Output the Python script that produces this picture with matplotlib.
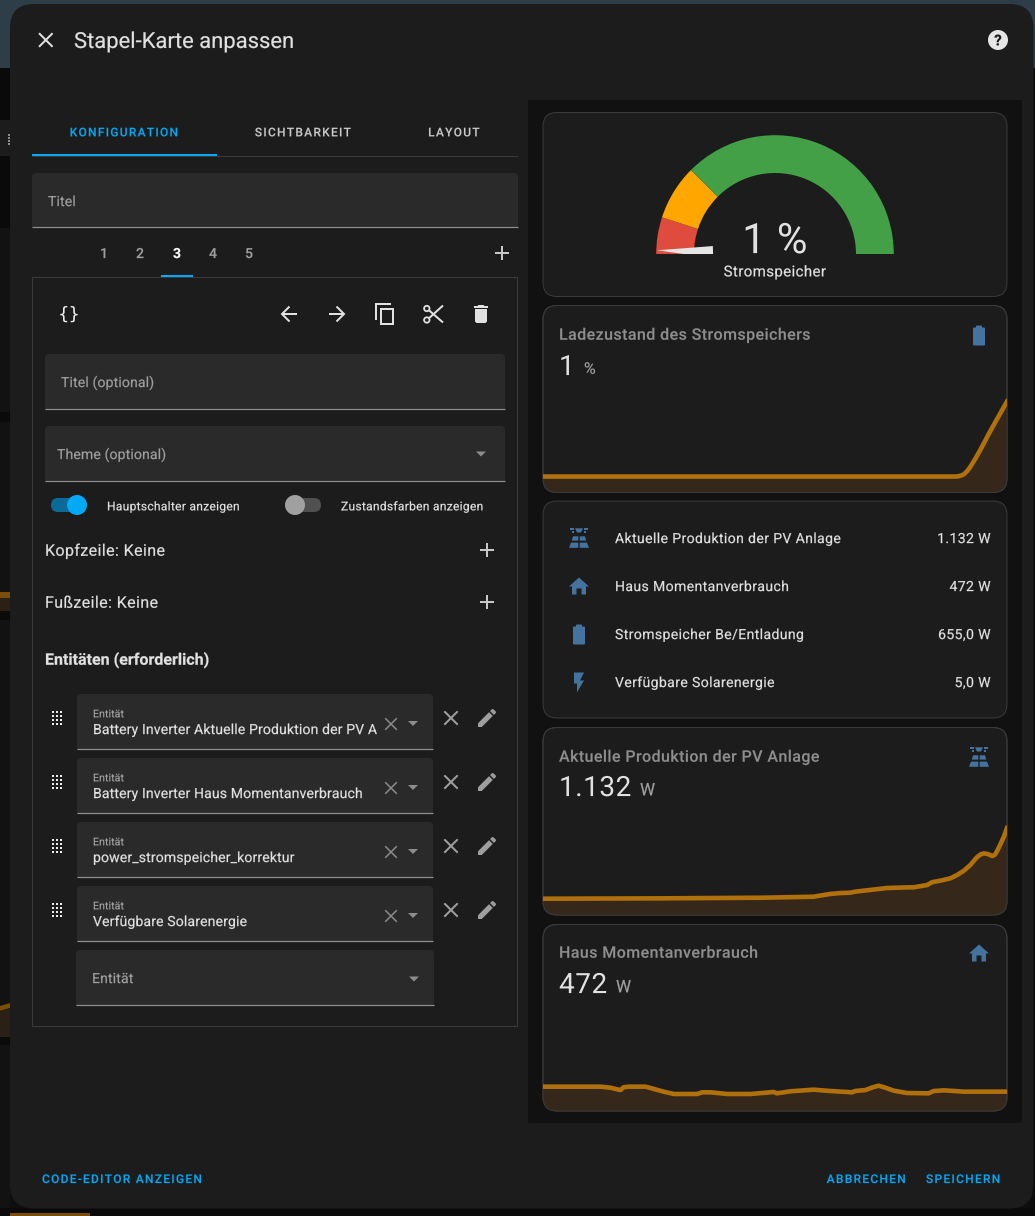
"""
Stapel-Karte anpassen - dashboard dialog redrawn in pixel coordinates
Output: out.png
"""
import matplotlib
matplotlib.use('Agg')
import numpy as np
import matplotlib.pyplot as plt
from matplotlib import font_manager
from matplotlib.font_manager import FontProperties
from matplotlib.patches import FancyBboxPatch, Rectangle, Polygon, Wedge, Circle
from matplotlib.patheffects import AbstractPathEffect
from matplotlib.path import Path

W, H = 1035, 1216
PT = 0.72  # px -> pt at dpi 100

# ── Data ───────────────────────────────────────────────────────────────────────
gauge_stops = [0, 10, 25, 100]
gauge_colors = ['#df4c3e', '#ffa600', '#43a047']
gauge_value = 1

soc_x = [0, 0.89, 0.896, 0.902, 0.907, 0.914, 0.921, 0.932, 0.943, 0.96, 0.978, 1.0]
soc_y = [0, 0, 0.005, 0.015, 0.03, 0.07, 0.13, 0.24, 0.36, 0.56, 0.76, 1.0]

pv_x = [0, 0.26, 0.476, 0.583, 0.60, 0.619, 0.64, 0.662, 0.673, 0.741, 0.775, 0.799, 0.828, 0.838,
        0.86, 0.878, 0.893, 0.907, 0.921, 0.935, 0.943, 0.95, 0.96, 0.968, 0.974, 0.978, 0.985, 0.993, 1.0]
pv_y = [30, 36, 46, 61, 82, 104, 118, 124, 140, 197, 205, 208, 244, 286,
        318, 348, 402, 467, 556, 676, 720, 738, 724, 696, 716, 764, 868, 993, 1132]

house_x = [0, 0.124, 0.145, 0.16, 0.167, 0.174, 0.185, 0.221, 0.24, 0.26, 0.282, 0.332, 0.343, 0.361,
           0.397, 0.447, 0.497, 0.504, 0.533, 0.583, 0.619, 0.666, 0.673, 0.695,
           0.71, 0.723, 0.737, 0.756, 0.784, 0.831, 0.842, 0.864, 0.907, 1.0]
house_y = [594, 594, 569, 528, 512, 580, 594, 594, 535, 472, 415, 415, 456, 456,
           415, 415, 464, 431, 480, 521, 488, 456, 488, 512,
           575, 618, 572, 496, 439, 431, 488, 504, 472, 472]

entity_names = ['Aktuelle Produktion der PV Anlage', 'Haus Momentanverbrauch',
                'Stromspeicher Be/Entladung', 'Verfügbare Solarenergie']
entity_values = ['1.132 W', '472 W', '655,0 W', '5,0 W']
picker_values = ['Battery Inverter Aktuelle Produktion der PV A',
                 'Battery Inverter Haus Momentanverbrauch',
                 'power_stromspeicher_korrektur', 'Verfügbare Solarenergie']
tab_labels = ['KONFIGURATION', 'SICHTBARKEIT', 'LAYOUT']
card_tabs = ['1', '2', '3', '4', '5']

# ── Colours ────────────────────────────────────────────────────────────────────
DIALOG = '#1c1c1c'
FIELD = '#2a2a2a'
BLUE = '#03a9f4'
ICON = '#44739e'
TXT = '#e1e1e1'
MUTED = '#9f9f9f'
TITLE = '#8e8e8e'
BORDER = '#3a3a3a'

plt.rcParams['font.family'] = ['Roboto', 'DejaVu Sans']
fig = plt.figure(figsize=(W / 100, H / 100), dpi=100, facecolor='#0e0e0e')
ax = fig.add_axes([0, 0, 1, 1])
ax.set_xlim(0, W)
ax.set_ylim(H, 0)
ax.axis('off')


# ── Helpers ────────────────────────────────────────────────────────────────────
def advances(s, weight, size=100):
    fp = FontProperties(family='Roboto', weight=weight)
    font = font_manager.get_font(font_manager.findfont(fp))
    font.set_size(size, 72)
    return np.array([font.load_char(ord(c), flags=2).linearHoriAdvance / 65536 for c in s])


class Tracked(AbstractPathEffect):
    # letter spacing for one text: moves each glyph outline, then fills and thickens it
    def __init__(self, edges, track, stroke):
        super().__init__()
        self.edges, self.track, self.stroke = edges, track, stroke

    def draw_path(self, renderer, gc, tpath, affine, rgbFace=None):
        verts = tpath.vertices.copy()
        starts = np.flatnonzero(tpath.codes == Path.MOVETO).tolist() + [len(verts)]
        for a, b in zip(starts[:-1], starts[1:]):
            idx = np.searchsorted(self.edges, verts[a:b, 0].mean()) - 1
            verts[a:b, 0] += max(idx, 0) * self.track
        gc0 = renderer.new_gc()
        gc0.copy_properties(gc)
        gc0.set_linewidth(self.stroke)
        gc0.set_foreground(rgbFace)
        renderer.draw_path(gc0, Path(verts, tpath.codes), affine, rgbFace)
        gc0.restore()


def rect(x0, y0, x1, y1, color, z=1):
    ax.add_patch(Rectangle((x0, y0), x1 - x0, y1 - y0, fc=color, ec='none', zorder=z))


def rbox(x0, y0, x1, y1, r, fc, ec='none', lw=1, z=2):
    p = FancyBboxPatch((x0, y0), x1 - x0, y1 - y0,
                       boxstyle=f'round,pad=0,rounding_size={r}',
                       fc=fc, ec=ec, lw=lw * PT, zorder=z)
    ax.add_patch(p)
    return p


def txt(x, y, s, size, color=TXT, weight='normal', ha='left', spacing=0, stroke=0.15):
    # y is the visual middle of the letters, size is in px
    base = y + 0.36 * size
    adv = advances(s, weight)
    total = adv.sum() * size / 100 + spacing * len(s)
    if ha == 'center':
        x -= total / 2
    elif ha == 'right':
        x -= total
    edges = np.concatenate([[0], np.cumsum(adv)])
    ax.text(x, base, s, fontsize=size * PT, color=color, weight=weight, ha='left',
            va='baseline', zorder=6,
            path_effects=[Tracked(edges, spacing * 100 / size, stroke)])


def line(xs, ys, color, lw=2, z=5, cap='butt'):
    ax.plot(xs, ys, color=color, lw=lw * PT, solid_capstyle=cap,
            solid_joinstyle='miter', zorder=z)


def poly(cx, cy, pts, color, z=5, scale=1.0):
    pts = [(cx + a * scale, cy + b * scale) for a, b in pts]
    ax.add_patch(Polygon(pts, closed=True, fc=color, ec='none', zorder=z))


def cross(cx, cy, h, color, lw=2):
    line([cx - h, cx + h], [cy - h, cy + h], color, lw)
    line([cx - h, cx + h], [cy + h, cy - h], color, lw)


def plus(cx, cy, h=7, color='#c8c8c8'):
    line([cx - h, cx + h], [cy, cy], color, 2)
    line([cx, cx], [cy - h, cy + h], color, 2)


def caret(cx, cy, color='#8c8c8c'):
    poly(cx, cy, [(-5, -2.5), (5, -2.5), (0, 2.5)], color)


def field(x0, y0, x1, y1):
    rbox(x0, y0, x1, y0 + 12, 4, FIELD)
    rect(x0, y0 + 6, x1, y1, FIELD, z=2)
    line([x0, x1], [y1 - 0.6, y1 - 0.6], '#8f8f8f', 1.2)


def solar_icon(cx, cy):
    for sgn in (-1, 1):
        poly(cx, cy, [(sgn * 9.3, -9.7), (sgn * 4.6, -9.7), (sgn * 4.6, -8.5), (sgn * 9.3, -8.5)], ICON)
        poly(cx, cy, [(sgn * 0.7, -1.7), (sgn * 6, -1.7), (sgn * 7.2, 2.6), (sgn * 0.7, 2.6)], ICON)
        poly(cx, cy, [(sgn * 0.7, 4.6), (sgn * 8, 4.6), (sgn * 10, 9.8), (sgn * 0.7, 9.8)], ICON)
        rect(cx + sgn * 6 - 0.8, cy - 6.6, cx + sgn * 6 + 0.8, cy - 5, ICON, z=5)
    poly(cx, cy, [(-4, -9.7), (4, -9.7), (2, -5.5), (-2, -5.5)], ICON)


def home_icon(cx, cy):
    poly(cx, cy, [(0, -8.5), (10, 0.5), (7, 0.5), (7, 8.5), (2.5, 8.5), (2.5, 2.5), (-2.5, 2.5),
                  (-2.5, 8.5), (-7, 8.5), (-7, 0.5), (-10, 0.5)], ICON)


def battery_icon(cx, cy):
    rbox(cx - 6, cy - 8, cx + 6, cy + 10, 1, ICON, z=5)
    rbox(cx - 3, cy - 10, cx + 3, cy - 6, 0.8, ICON, z=5)


def flash_icon(cx, cy):
    poly(cx, cy, [(-5, -10), (-5, 1), (-2, 1), (-2, 10), (5, -2), (1, -2), (5, -10)], ICON)


def pencil_icon(cx, cy, color='#9e9e9e'):
    poly(cx - 12, cy - 12, [(3, 17.25), (3, 21), (6.75, 21), (17.81, 9.93), (14.06, 6.18)], color)
    poly(cx - 12, cy - 12, [(15.12, 5.12), (17, 3.1), (18.3, 3.1), (20.9, 5.7), (20.9, 7),
                            (18.87, 8.87)], color)


def grip(cx, cy):
    for dx in (-4.3, 0, 4.3):
        for dy in (-6, -2, 2, 6):
            rect(cx + dx - 0.9, cy + dy - 0.9, cx + dx + 0.9, cy + dy + 0.9, '#ececec', z=5)


def card(y0, y1):
    return rbox(543, y0, 1007, y1, 14, DIALOG, ec=BORDER, lw=1, z=3)


def spark(card_patch, y_bottom, xs, ys, ylim):
    # one small axes per history line, 100 px high, standing on the card bottom
    sp = fig.add_axes([543 / W, 1 - y_bottom / H, 464 / W, 100 / H], zorder=2)
    sp.patch.set_alpha(0)
    sp.axis('off')
    sp.set_xlim(0, 1)
    sp.set_ylim(*ylim)
    area = sp.fill_between(xs, ys, ylim[0], color='#35271a', lw=0)
    ln, = sp.plot(xs, ys, color='#b0700c', lw=4.6 * PT, solid_joinstyle='round')
    area.set_clip_path(card_patch)
    ln.set_clip_path(card_patch)
    x0, y0 = card_patch.get_x(), card_patch.get_y()
    sp.add_patch(FancyBboxPatch((x0, y0), card_patch.get_width(), card_patch.get_height(),
                                boxstyle='round,pad=0,rounding_size=14', fc='none', ec=BORDER,
                                lw=PT, transform=ax.transData, clip_on=False))


# ── Backdrop behind the dialog ─────────────────────────────────────────────────
rect(0, 0, W, 68, '#2e3e49', z=0)
rect(0, 68, 10, 228, '#0a0a0a', z=0)
rect(0, 228, 10, 1216, '#121212', z=0)
rect(0, 120, 10, 156, '#1c1c1c', z=0)
for yy in (134, 137, 140, 143):
    rect(7.5, yy, 9.5, yy + 1.5, '#8c8c8c', z=0.5)
rect(0, 412, 10, 422, '#0a0a0a', z=0.5)
rect(0, 592, 10, 598, '#7a4d08', z=0.5)
rect(0, 598, 10, 611, '#2a2015', z=0.5)
rect(0, 611, 10, 620, '#0a0a0a', z=0.5)
poly(0, 0, [(0, 1006), (10, 1003), (10, 1008), (0, 1011)], '#7a4d08', z=0.5)
poly(0, 0, [(0, 1011), (10, 1008), (10, 1037), (0, 1037)], '#2a2015', z=0.5)
rect(0, 1037, 10, 1045, '#0a0a0a', z=0.5)
rect(0, 1208, W, H, '#0a0a0a', z=0.5)
rect(10, 1213, 90, H, '#7a4d08', z=0.6)

# ── Dialog ─────────────────────────────────────────────────────────────────────
rect(1033, 68, W, H, '#0a0a0a', z=0.5)
rbox(10, 4, 1033.5, 1208.5, 24, DIALOG, z=1)
cross(45.8, 40, 6.8, TXT)
txt(74, 40, 'Stapel-Karte anpassen', 22, TXT)
ax.add_patch(Circle((998, 40), 10, fc='#e6e6e6', ec='none', zorder=5))
txt(998, 40, '?', 15, DIALOG, weight='bold', ha='center')

# tabs
for lab, cx, col in zip(tab_labels, (124, 303, 454), (BLUE, '#c8c8c8', '#c8c8c8')):
    txt(cx + 0.5, 132, lab, 12, col, weight='medium', ha='center', spacing=1.25, stroke=0.1)
line([32, 518], [156, 156], BORDER, 1)
rect(32, 154, 217, 156, BLUE, z=5)

field(32, 173, 518, 228)
txt(48, 201, 'Titel', 14, MUTED, spacing=0.15)

for lab, cx in zip(card_tabs, (104, 140, 177, 213, 249)):
    txt(cx, 253, lab, 14, '#ffffff' if lab == '3' else MUTED,
        weight='bold' if lab == '3' else 'medium', ha='center', stroke=0.1)
rect(161, 275, 193, 277, BLUE, z=5)
plus(502, 253)

# frame around the card editor
ax.add_patch(Rectangle((32, 277), 485, 749, fc='none', ec=BORDER, lw=PT, zorder=3))

# toolbar
ax.text(69, 320, '{}', fontsize=18 * PT, color='#eeeeee', family='DejaVu Sans', ha='center',
        va='baseline', zorder=6)
line([282, 297], [314, 314], TXT)
line([289.5, 282, 289.5], [306.5, 314, 321.5], TXT)
line([329, 344], [314, 314], TXT)
line([336.5, 344, 336.5], [306.5, 314, 321.5], TXT)
line([391, 376, 376], [304, 304, 319.5], TXT)
ax.add_patch(Rectangle((381, 308.5), 12, 15, fc='none', ec=TXT, lw=2 * PT, zorder=5))
for cy_, y_end in ((308.5, 322.5), (320, 305.5)):
    ax.add_patch(Circle((426.8, cy_), 2.7, fc='none', ec=TXT, lw=1.8 * PT, zorder=5))
    line([429, 443], [cy_ + (1.8 if cy_ < 314 else -1.8), y_end], TXT)
poly(481, 314, [(7, -8), (3.5, -8), (2.5, -9), (-2.5, -9), (-3.5, -8), (-7, -8), (-7, -6), (7, -6)], TXT)
poly(481, 314, [(-6, -5), (6, -5), (6, 7.5), (4.5, 9), (-4.5, 9), (-6, 7.5)], TXT)

field(45, 354, 505, 409.5)
txt(61, 382, 'Titel (optional)', 14, MUTED, spacing=0.15)
field(45, 426, 505, 481.5)
txt(57, 454, 'Theme (optional)', 14, MUTED, spacing=0.15)
caret(481, 454)

# switches
rbox(51, 498, 85, 512, 7, '#0b6a98', z=4)
ax.add_patch(Circle((77, 505), 10, fc=BLUE, ec='none', zorder=5))
txt(107, 506, 'Hauptschalter anzeigen', 12, TXT, spacing=0.3)
rbox(287, 498, 321, 512, 7, '#505050', z=4)
ax.add_patch(Circle((295, 505), 10, fc='#a0a0a0', ec='none', zorder=5))
txt(341, 506, 'Zustandsfarben anzeigen', 12, TXT, spacing=0.3)

txt(45, 550, 'Kopfzeile: Keine', 16, TXT, spacing=0.4)
plus(487, 550)
txt(45, 602, 'Fußzeile: Keine', 16, TXT, spacing=0.4)
plus(487, 602)
txt(45, 659, 'Entitäten (erforderlich)', 16, TXT, weight='bold')

# entity pickers
for i, name in enumerate(picker_values):
    y0 = 694 + 64 * i
    field(77, y0, 433, y0 + 55.5)
    grip(57, y0 + 24)
    txt(93, y0 + 19.5, 'Entität', 10.5, MUTED, spacing=0.1)
    txt(93, y0 + 35, name, 14, TXT, spacing=0.15)
    cross(391, y0 + 30, 5.8, '#8c8c8c', 1.5)
    caret(413, y0 + 29.5)
    cross(451, y0 + 24, 6.7, '#9e9e9e')
    pencil_icon(487, y0 + 24)
field(76, 950, 434, 1005.5)
txt(92, 978, 'Entität', 14, MUTED, spacing=0.15)
caret(414, 979)

# footer
txt(42, 1178.7, 'CODE-EDITOR ANZEIGEN', 12, BLUE, weight='medium', spacing=1.25, stroke=0.1)
txt(907, 1178.7, 'ABBRECHEN', 12, BLUE, weight='medium', ha='right', spacing=1.25, stroke=0.1)
txt(1001.5, 1178.7, 'SPEICHERN', 12, BLUE, weight='medium', ha='right', spacing=1.25, stroke=0.1)

# ── Preview panel ──────────────────────────────────────────────────────────────
rbox(528, 100, 1022, 1123, 2, '#111111', z=2)

# gauge card
card(112.5, 296.5)
gx, gy, r_out, r_in = 775, 254, 118.8, 81
for lo, hi, col in zip(gauge_stops[:-1], gauge_stops[1:], gauge_colors):
    ax.add_patch(Wedge((gx, gy), r_out, 180 + lo * 1.8, 180 + hi * 1.8, width=r_out - r_in,
                       fc=col, ec='none', zorder=4))
ang = np.deg2rad(gauge_value * 1.8)
ux, uy = -np.cos(ang), -np.sin(ang)
needle = Polygon([(gx + 118 * ux, gy + 118 * uy),
                  (gx + 62 * ux + 6 * uy, gy + 62 * uy - 6 * ux * -1),
                  (gx + 62 * ux - 6 * uy, gy + 62 * uy + 6 * ux * -1)],
                 closed=True, fc='#e5e5e5', ec='none', zorder=5)
ax.add_patch(needle)
needle.set_clip_path(Rectangle((gx - 130, gy - 20), 130, 20, transform=ax.transData))
txt(775, 238, f'{gauge_value} %', 42, TXT, ha='center', spacing=0.3, stroke=0)
txt(775, 271, 'Stromspeicher', 15, TXT, ha='center', spacing=0.4)

# state of charge card
c2 = card(305.5, 492.5)
txt(559, 334, 'Ladezustand des Stromspeichers', 16, TITLE, weight='medium', spacing=0.42, stroke=0.1)
txt(559, 365, '1', 28, TXT, stroke=0)
txt(584, 368, '%', 16, MUTED)
battery_icon(979, 335.5)
spark(c2, 492.5, soc_x, soc_y, (-0.213, 1.12))

# entities card
card(501, 718)
solar_icon(579, 538)
home_icon(579, 586)
battery_icon(579, 634.5)
flash_icon(579, 682.5)
for i, (name, val) in enumerate(zip(entity_names, entity_values)):
    txt(615, 538 + 48 * i, name, 14, TXT, spacing=0.4)
    txt(991, 538 + 48 * i, val, 14, TXT, ha='right', spacing=0.4)

# history cards
c4 = card(727.5, 915)
txt(559, 756, entity_names[0], 16, TITLE, weight='medium', spacing=0.42, stroke=0.1)
txt(559, 786, '1.132', 28, TXT, spacing=0.5, stroke=0)
txt(640, 789, 'W', 17, MUTED)
solar_icon(979, 757)
spark(c4, 915, pv_x, pv_y, (-224, 1336))

c5 = card(924.5, 1111)
txt(559, 952, entity_names[1], 16, TITLE, weight='medium', spacing=0.42, stroke=0.1)
txt(559, 983, '472', 28, TXT, spacing=0.5, stroke=0)
txt(616, 986, 'W', 17, MUTED)
home_icon(979, 953)
spark(c5, 1111, house_x, house_y, (0, 2440))

fig.savefig('out.png', dpi=100, facecolor=fig.get_facecolor())
